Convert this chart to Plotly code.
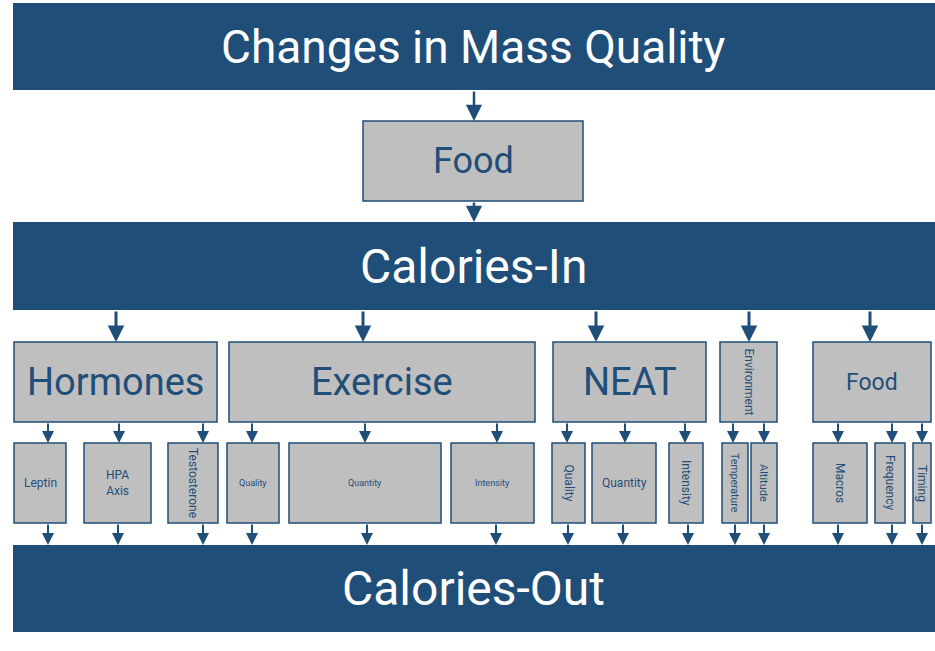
import plotly.graph_objects as go

W, H = 935, 651
BLUE = "#1F4E79"
GRAY = "#BFBFBF"
FONT = "Roboto"

# ---- diagram content ----
banner_labels = ["Changes in Mass Quality", "Calories-In", "Calories-Out"]
banner_y = [(3, 90), (222, 310), (545, 632)]
banner_size = [46, 48, 48]

food_label = "Food"
food_box = (363, 583, 121, 201)

mid_labels = ["Hormones", "Exercise", "NEAT", "Environment", "Food"]
mid_x = [(14, 217), (229, 535), (553, 706), (720, 777), (813, 931)]
mid_arrow_x = [116, 363, 596, 749, 870]
mid_size = [38, 38, 38, 12, 23]
mid_angle = [0, 0, 0, 90, 0]
mid_y = (342, 422)

leaf_labels = ["Leptin", "HPA<br>Axis", "Testosterone", "Quality", "Quantity", "Intensity",
               "Quality", "Quantity", "Intensity", "Temperature", "Altitude",
               "Macros", "Frequency", "Timing"]
leaf_x = [(14, 66), (84, 151), (168, 218), (227, 279), (289, 441), (451, 534),
          (552, 585), (592, 656), (669, 703), (722, 748), (751, 777),
          (813, 867), (875, 905), (913, 931)]
leaf_in_x = [48, 119, 203, 252, 365, 497, 567, 625, 685, 733, 764, 838, 892, 922]
leaf_out_x = [48, 118, 203, 252, 367, 496, 568, 623, 688, 735, 764, 838, 892, 922]
leaf_size = [12, 12, 12, 9, 9, 9, 12, 12, 12, 10.5, 11, 12, 12, 12]
leaf_angle = [0, 0, 90, 0, 0, 0, 90, 0, 90, 90, 90, 90, 90, 90]
leaf_y = (443, 523)

fig = go.Figure()
shapes = []
annotations = []


def box(x0, x1, y0, y1, fill, line):
    shapes.append(dict(type="rect", xref="x", yref="y", x0=x0, x1=x1, y0=y0, y1=y1,
                       fillcolor=fill, line=dict(color=line, width=1.5 if line != fill else 0),
                       layer="below"))


def label(x, y, text, size, color, angle=0):
    annotations.append(dict(x=x, y=y, xref="x", yref="y", text=text, showarrow=False,
                            textangle=angle, font=dict(family=FONT, size=size, color=color),
                            xanchor="center", yanchor="middle"))


def arrow(x, y0, y1, width, size):
    annotations.append(dict(x=x, y=y1, ax=x, ay=y0, xref="x", yref="y", axref="x", ayref="y",
                            text="", showarrow=True, arrowhead=2, arrowsize=size,
                            arrowwidth=width, arrowcolor=BLUE, standoff=0, startstandoff=0))


for lab, (y0, y1), sz in zip(banner_labels, banner_y, banner_size):
    box(13, 935, y0, y1, BLUE, BLUE)
    label(473, (y0 + y1) / 2, lab, sz, "white")

fx0, fx1, fy0, fy1 = food_box
box(fx0, fx1, fy0, fy1, GRAY, BLUE)
label((fx0 + fx1) / 2, (fy0 + fy1) / 2, food_label, 36, BLUE)
arrow(474, banner_y[0][1], fy0, 2.5, 1.3)
arrow(474, fy1, banner_y[1][0], 2.5, 1.3)

for lab, (x0, x1), ax_, sz, ang in zip(mid_labels, mid_x, mid_arrow_x, mid_size, mid_angle):
    box(x0, x1, mid_y[0], mid_y[1], GRAY, BLUE)
    label((x0 + x1) / 2, (mid_y[0] + mid_y[1]) / 2, lab, sz, BLUE, ang)
    arrow(ax_, banner_y[1][1], mid_y[0], 3, 1.1)

for lab, (x0, x1), xi, xo, sz, ang in zip(leaf_labels, leaf_x, leaf_in_x, leaf_out_x,
                                           leaf_size, leaf_angle):
    box(x0, x1, leaf_y[0], leaf_y[1], GRAY, BLUE)
    label((x0 + x1) / 2, (leaf_y[0] + leaf_y[1]) / 2, lab, sz, BLUE, ang)
    arrow(xi, mid_y[1], leaf_y[0], 2, 1.2)
    arrow(xo, leaf_y[1], banner_y[2][0], 2, 1.2)

fig.update_layout(
    width=W, height=H,
    margin=dict(l=0, r=0, t=0, b=0),
    paper_bgcolor="white", plot_bgcolor="white",
    xaxis=dict(range=[0, W], visible=False, fixedrange=True),
    yaxis=dict(range=[H, 0], visible=False, fixedrange=True),
    shapes=shapes, annotations=annotations, showlegend=False,
)
fig.write_html("out.html", config={"displayModeBar": False},
               post_script="document.body.style.margin='0';document.body.style.overflow='hidden';")
